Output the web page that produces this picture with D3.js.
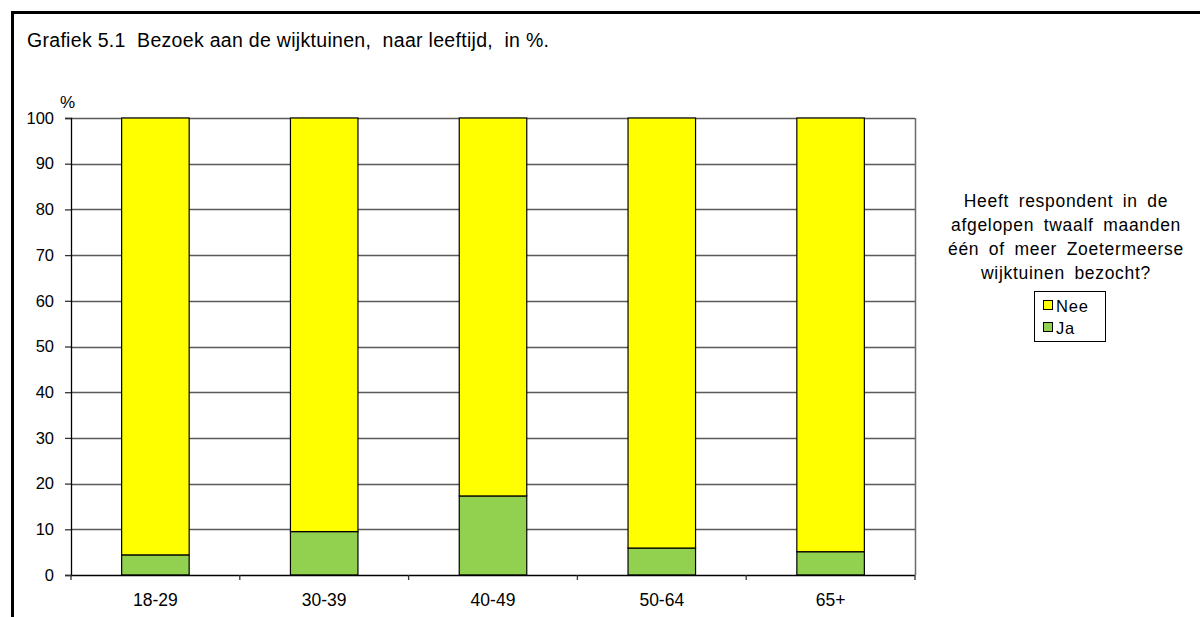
<!DOCTYPE html>
<html>
<head>
<meta charset="utf-8">
<script src="https://cdn.jsdelivr.net/npm/d3@7"></script>
<style>
  html, body { margin: 0; padding: 0; background: #fff; }
  svg { display: block; font-family: Arial, "Liberation Sans", sans-serif; }
</style>
</head>
<body>
<div id="chart"></div>
<script>
const categories = ["18-29", "30-39", "40-49", "50-64", "65+"];
const ja = [4.4, 9.5, 17.3, 5.9, 5.1];
const nee = [95.6, 90.5, 82.7, 94.1, 94.9];
const yTicks = [0, 10, 20, 30, 40, 50, 60, 70, 80, 90, 100];
const seriesNames = ["Nee", "Ja"];
const seriesColors = { Nee: "#ffff00", Ja: "#92d050" };
const legendTitle = [
  "Heeft respondent in de",
  "afgelopen twaalf maanden",
  "één of meer Zoetermeerse",
  "wijktuinen bezocht?",
];

const width = 1200, height = 617;
const plot = { left: 71, right: 915, top: 118, bottom: 575 };

const svg = d3.select("#chart")
  .append("svg")
  .attr("width", width)
  .attr("height", height)
  .attr("viewBox", `0 0 ${width} ${height}`);

// outer frame, runs off the right and bottom edge
svg.append("rect")
  .attr("x", 12.5).attr("y", 12.5)
  .attr("width", width + 20).attr("height", height + 20)
  .attr("fill", "#fff")
  .attr("stroke", "#000")
  .attr("stroke-width", 3);

svg.append("text")
  .attr("x", 27).attr("y", 47)
  .attr("font-size", 19.5)
  .attr("letter-spacing", 0.3)
  .attr("fill", "#000")
  .attr("xml:space", "preserve")
  .text("Grafiek 5.1  Bezoek aan de wijktuinen,  naar leeftijd,  in %.");

const x = d3.scaleBand()
  .domain(categories)
  .range([plot.left, plot.right])
  .paddingInner(0.6)
  .paddingOuter(0.3);

const y = d3.scaleLinear()
  .domain([0, 100])
  .range([plot.bottom, plot.top]);

// gridlines
svg.append("g")
  .selectAll("line")
  .data(yTicks.filter((t) => t > 0))
  .join("line")
  .attr("x1", plot.left).attr("x2", plot.right)
  .attr("y1", (d) => Math.round(y(d)) + 0.5)
  .attr("y2", (d) => Math.round(y(d)) + 0.5)
  .attr("stroke", "#5a5a5a")
  .attr("stroke-width", 1.3);

// plot area right border
svg.append("line")
  .attr("x1", plot.right + 0.5).attr("x2", plot.right + 0.5)
  .attr("y1", plot.top).attr("y2", plot.bottom)
  .attr("stroke", "#6a6a6a")
  .attr("stroke-width", 1.5);

// stacked bars
const stackData = categories.map((c, i) => ({ cat: c, Ja: ja[i], Nee: nee[i] }));
const stack = d3.stack().keys(["Ja", "Nee"])(stackData);

svg.append("g")
  .selectAll("g")
  .data(stack)
  .join("g")
  .attr("fill", (s) => seriesColors[s.key])
  .selectAll("rect")
  .data((s) => s)
  .join("rect")
  .attr("x", (d) => x(d.data.cat))
  .attr("width", x.bandwidth())
  .attr("y", (d) => y(d[1]))
  .attr("height", (d) => y(d[0]) - y(d[1]))
  .attr("stroke", "#000")
  .attr("stroke-width", 1.2);

// y axis
const yAxis = svg.append("g")
  .attr("transform", `translate(${plot.left},0)`)
  .call(d3.axisLeft(y).tickValues(yTicks).tickSize(6).tickPadding(11));
yAxis.select(".domain").attr("stroke", "#000").attr("stroke-width", 1.3);
yAxis.selectAll(".tick line").attr("stroke", "#333").attr("stroke-width", 1.3);
yAxis.selectAll(".tick text")
  .attr("font-size", 16.5)
  .attr("font-family", "Arial, 'Liberation Sans', sans-serif")
  .attr("fill", "#000");

// x axis with ticks at category boundaries
const xAxis = svg.append("g")
  .attr("transform", `translate(0,${plot.bottom})`);
xAxis.append("line")
  .attr("x1", plot.left).attr("x2", plot.right)
  .attr("y1", 0.5).attr("y2", 0.5)
  .attr("stroke", "#000")
  .attr("stroke-width", 1.3);
const bounds = d3.range(categories.length + 1)
  .map((i) => plot.left + i * (plot.right - plot.left) / categories.length);
xAxis.selectAll("line.tick")
  .data(bounds)
  .join("line")
  .attr("class", "tick")
  .attr("x1", (d) => d).attr("x2", (d) => d)
  .attr("y1", 0).attr("y2", 5)
  .attr("stroke", "#333")
  .attr("stroke-width", 1.3);
xAxis.selectAll("text")
  .data(categories)
  .join("text")
  .attr("x", (d) => x(d) + x.bandwidth() / 2)
  .attr("y", 31)
  .attr("text-anchor", "middle")
  .attr("font-size", 17.5)
  .attr("fill", "#000")
  .text((d) => d);

svg.append("text")
  .attr("x", 60).attr("y", 108)
  .attr("font-size", 17)
  .attr("fill", "#000")
  .text("%");

// legend
const legend = svg.append("g");
legend.selectAll("text.title")
  .data(legendTitle)
  .join("text")
  .attr("class", "title")
  .attr("x", 1066)
  .attr("y", (d, i) => 207 + i * 24)
  .attr("text-anchor", "middle")
  .attr("font-size", 17.5)
  .attr("letter-spacing", 0.7)
  .attr("word-spacing", 4)
  .attr("fill", "#000")
  .text((d) => d);

legend.append("rect")
  .attr("x", 1034.5).attr("y", 291.5)
  .attr("width", 71).attr("height", 50)
  .attr("fill", "#fff")
  .attr("stroke", "#000")
  .attr("stroke-width", 1);

const items = legend.selectAll("g.item")
  .data(seriesNames)
  .join("g")
  .attr("class", "item")
  .attr("transform", (d, i) => `translate(1043,${306 + i * 22})`);
items.append("rect")
  .attr("x", 0.5).attr("y", -5.5)
  .attr("width", 9).attr("height", 9)
  .attr("fill", (d) => seriesColors[d])
  .attr("stroke", "#000")
  .attr("stroke-width", 1);
items.append("text")
  .attr("x", 13).attr("y", 5.5)
  .attr("font-size", 16.5)
  .attr("letter-spacing", 0.8)
  .attr("fill", "#000")
  .text((d) => d);
</script>
</body>
</html>
